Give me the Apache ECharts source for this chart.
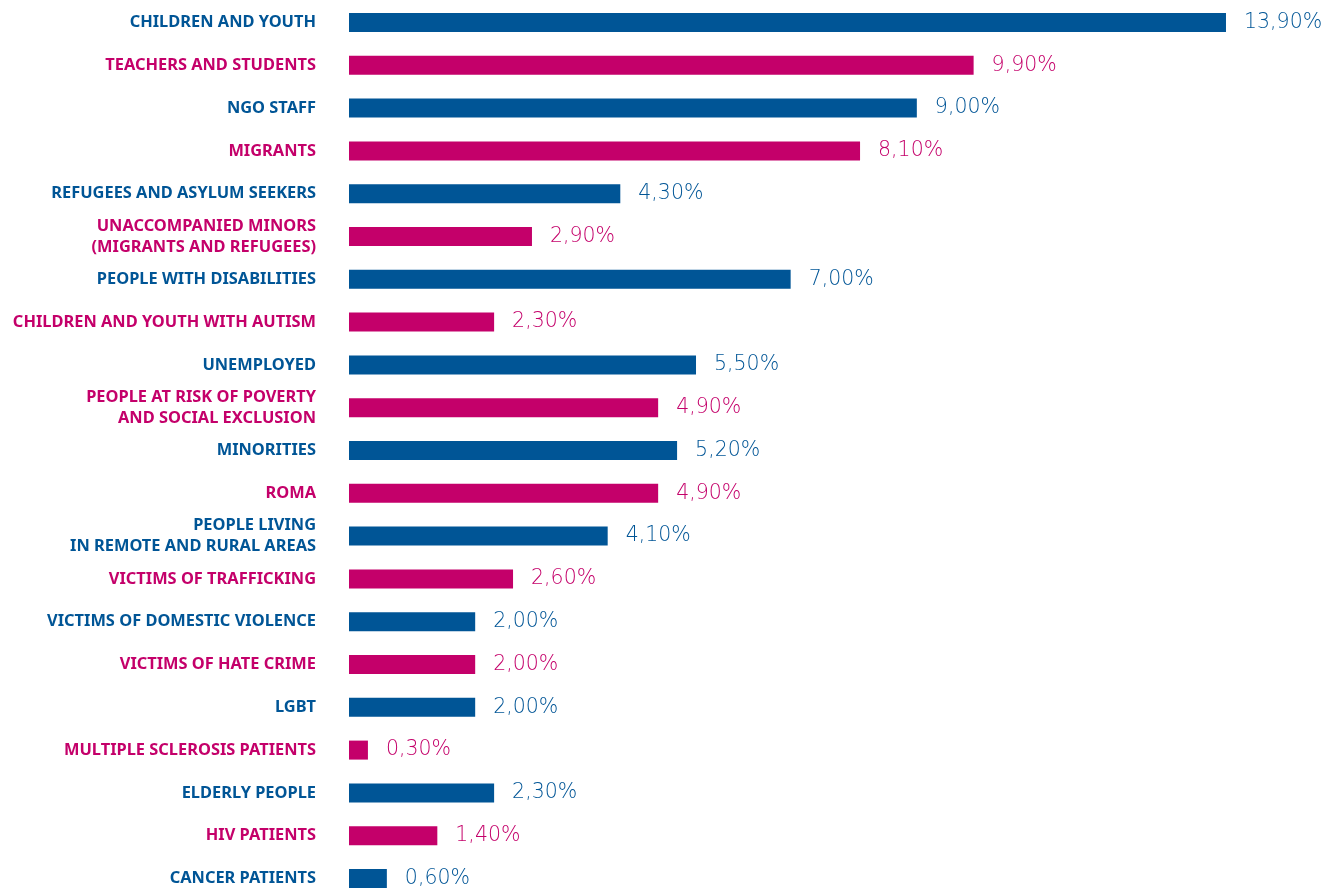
<!DOCTYPE html>
<html>
<head>
<meta charset="utf-8">
<script src="https://cdn.jsdelivr.net/npm/echarts@6/dist/echarts.min.js"></script>
<style>
html,body{margin:0;padding:0;background:#fff;}
#chart{width:1326px;height:889px;}
</style>
</head>
<body>
<div id="chart"></div>
<script>
const categories = [
  'CHILDREN AND YOUTH',
  'TEACHERS AND STUDENTS',
  'NGO STAFF',
  'MIGRANTS',
  'REFUGEES AND ASYLUM SEEKERS',
  'UNACCOMPANIED MINORS\n(MIGRANTS AND REFUGEES)',
  'PEOPLE WITH DISABILITIES',
  'CHILDREN AND YOUTH WITH AUTISM',
  'UNEMPLOYED',
  'PEOPLE AT RISK OF POVERTY\nAND SOCIAL EXCLUSION',
  'MINORITIES',
  'ROMA',
  'PEOPLE LIVING\nIN REMOTE AND RURAL AREAS',
  'VICTIMS OF TRAFFICKING',
  'VICTIMS OF DOMESTIC VIOLENCE',
  'VICTIMS OF HATE CRIME',
  'LGBT',
  'MULTIPLE SCLEROSIS PATIENTS',
  'ELDERLY PEOPLE',
  'HIV PATIENTS',
  'CANCER PATIENTS'
];
const values = [13.9, 9.9, 9.0, 8.1, 4.3, 2.9, 7.0, 2.3, 5.5, 4.9, 5.2, 4.9, 4.1, 2.6, 2.0, 2.0, 2.0, 0.3, 2.3, 1.4, 0.6];

const BLUE = '#005596';
const PINK = '#c4006a';
const colorOf = i => (i % 2 === 0 ? BLUE : PINK);

const chart = echarts.init(document.getElementById('chart'), null, {renderer: 'canvas'});
chart.setOption({
  animation: false,
  backgroundColor: '#fff',
  grid: {left: 349, top: 22.5, width: 883.3, height: 862.5, containLabel: false},
  xAxis: {
    type: 'value', min: 0, max: 14, show: false
  },
  yAxis: {
    type: 'category',
    inverse: true,
    boundaryGap: false,
    data: categories.map((c, i) => {
      const ts = {color: colorOf(i)};
      if (c.indexOf('PEOPLE LIVING') === 0) ts.padding = [10, 0, 0, 0];
      return {value: c, textStyle: ts};
    }),
    axisLine: {show: false},
    axisTick: {show: false},
    splitLine: {show: false},
    axisLabel: {
      margin: 33,
      fontFamily: 'Noto Sans',
      fontWeight: 'bold',
      fontSize: 16.4,
      lineHeight: 21,
      align: 'right'
    }
  },
  series: [{
    type: 'bar',
    barWidth: 19,
    data: values.map((v, i) => ({value: v, itemStyle: {color: colorOf(i)}, label: {color: colorOf(i)}})),
    label: {
      show: true,
      position: 'right',
      distance: 18,
      fontFamily: 'DejaVu Sans',
      fontWeight: 200,
      fontSize: 20.5,
      formatter: p => p.value.toFixed(2).replace('.', ',') + '%'
    }
  }]
});
</script>
</body>
</html>
